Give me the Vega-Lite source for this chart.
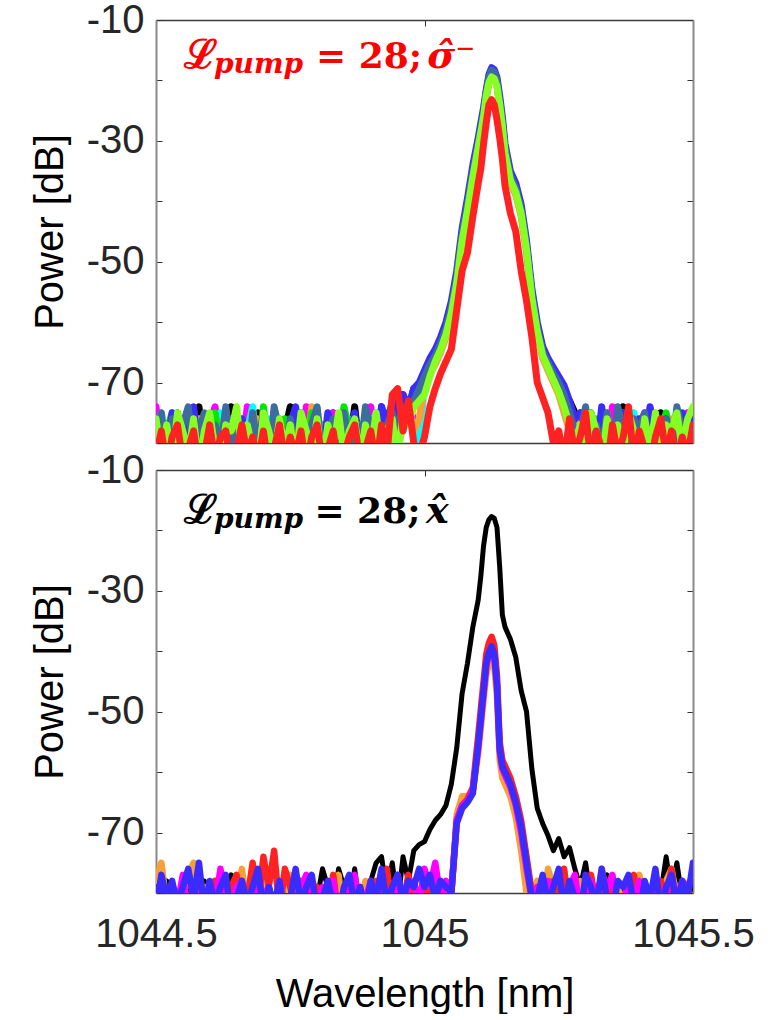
{
  "$schema": "https://vega.github.io/schema/vega-lite/v6.json",
  "autosize": {"type": "pad"},
  "padding": {"left": 30, "top": 0, "right": 0, "bottom": 0},
  "background": "white",
  "spacing": 27,
  "bounds": "flush",
  "config": {
    "view": {"stroke": null},
    "axis": {
      "grid": false, "ticks": true, "tickSize": -6, "tickColor": "#333333", "tickWidth": 1,
      "labelFont": "Liberation Sans", "labelFontSize": 40, "labelColor": "#262626",
      "titleFont": "Liberation Sans", "titleFontSize": 40, "titleFontWeight": "normal", "titleColor": "#000000",
      "labelOverlap": false, "labelFlush": false, "domainColor": "#3c3c3c", "domainWidth": 1.5
    },
    "axisY": {"domainColor": "#8a8a8a", "domainWidth": 2, "labelPadding": 18, "titlePadding": 16},
    "axisX": {"labelPadding": 27, "titlePadding": 20}
  },
  "datasets": {
    "top": [
      {"w":1044.5,"k":-82,"m":-74,"c":-78,"o":-81,"g":-77,"b":-82,"s":-78,"l":-76,"r":-82},
      {"w":1044.51,"k":-76,"m":-81,"c":-75,"o":-77,"g":-82,"b":-76,"s":-75,"l":-82,"r":-78},
      {"w":1044.52,"k":-83,"m":-77,"c":-82,"o":-83,"g":-78,"b":-81,"s":-83,"l":-77,"r":-84},
      {"w":1044.53,"k":-78,"m":-83,"c":-77,"o":-78,"g":-75,"b":-75,"s":-76,"l":-83,"r":-79},
      {"w":1044.54,"k":-75,"m":-76,"c":-81,"o":-76,"g":-83,"b":-78,"s":-81,"l":-75,"r":-77},
      {"w":1044.55,"k":-81,"m":-78,"c":-83,"o":-82,"g":-81,"b":-83,"s":-77,"l":-78,"r":-83},
      {"w":1044.56,"k":-84,"m":-82,"c":-76,"o":-78,"g":-76,"b":-77,"s":-74,"l":-82,"r":-81},
      {"w":1044.57,"k":-77,"m":-75,"c":-78,"o":-84,"g":-82,"b":-74,"s":-82,"l":-76,"r":-78},
      {"w":1044.58,"k":-74,"m":-81,"c":-82,"o":-76,"g":-78,"b":-82,"s":-78,"l":-84,"r":-84},
      {"w":1044.59,"k":-82,"m":-84,"c":-77,"o":-81,"g":-77,"b":-78,"s":-75,"l":-78,"r":-82},
      {"w":1044.6,"k":-78,"m":-77,"c":-84,"o":-77,"g":-83,"b":-76,"s":-83,"l":-75,"r":-77},
      {"w":1044.61,"k":-83,"m":-74,"c":-78,"o":-83,"g":-75,"b":-83,"s":-77,"l":-81,"r":-83},
      {"w":1044.62,"k":-76,"m":-82,"c":-75,"o":-78,"g":-81,"b":-81,"s":-81,"l":-83,"r":-79},
      {"w":1044.63,"k":-81,"m":-78,"c":-81,"o":-75,"g":-78,"b":-75,"s":-74,"l":-77,"r":-78},
      {"w":1044.64,"k":-74,"m":-76,"c":-83,"o":-82,"g":-84,"b":-78,"s":-82,"l":-78,"r":-84},
      {"w":1044.65,"k":-82,"m":-83,"c":-77,"o":-78,"g":-76,"b":-82,"s":-76,"l":-74,"r":-81},
      {"w":1044.66,"k":-77,"m":-81,"c":-82,"o":-83,"g":-82,"b":-76,"s":-78,"l":-82,"r":-77},
      {"w":1044.67,"k":-83,"m":-74,"c":-78,"o":-77,"g":-78,"b":-84,"s":-84,"l":-77,"r":-82},
      {"w":1044.68,"k":-78,"m":-82,"c":-74,"o":-81,"g":-77,"b":-77,"s":-75,"l":-81,"r":-79},
      {"w":1044.69,"k":-75,"m":-77,"c":-83,"o":-76,"g":-83,"b":-81,"s":-81,"l":-84,"r":-83},
      {"w":1044.7,"k":-82,"m":-78,"c":-81,"o":-84,"g":-74,"b":-75,"s":-77,"l":-75,"r":-78},
      {"w":1044.71,"k":-81,"m":-83,"c":-76,"o":-78,"g":-81,"b":-83,"s":-83,"l":-78,"r":-84},
      {"w":1044.72,"k":-76,"m":-75,"c":-82,"o":-82,"g":-78,"b":-78,"s":-74,"l":-82,"r":-81},
      {"w":1044.73,"k":-84,"m":-81,"c":-78,"o":-77,"g":-82,"b":-76,"s":-78,"l":-76,"r":-77},
      {"w":1044.74,"k":-78,"m":-77,"c":-84,"o":-81,"g":-76,"b":-82,"s":-82,"l":-81,"r":-83},
      {"w":1044.75,"k":-74,"m":-84,"c":-77,"o":-83,"g":-84,"b":-77,"s":-76,"l":-77,"r":-79},
      {"w":1044.76,"k":-82,"m":-76,"c":-81,"o":-76,"g":-78,"b":-74,"s":-81,"l":-83,"r":-82},
      {"w":1044.77,"k":-77,"m":-82,"c":-75,"o":-78,"g":-77,"b":-81,"s":-75,"l":-75,"r":-78},
      {"w":1044.78,"k":-83,"m":-74,"c":-83,"o":-82,"g":-82,"b":-83,"s":-83,"l":-78,"r":-84},
      {"w":1044.79,"k":-81,"m":-78,"c":-78,"o":-74,"g":-75,"b":-78,"s":-77,"l":-82,"r":-79},
      {"w":1044.8,"k":-76,"m":-83,"c":-76,"o":-81,"g":-81,"b":-76,"s":-74,"l":-76,"r":-77},
      {"w":1044.81,"k":-82,"m":-77,"c":-82,"o":-77,"g":-83,"b":-82,"s":-82,"l":-84,"r":-83},
      {"w":1044.82,"k":-78,"m":-81,"c":-77,"o":-83,"g":-78,"b":-75,"s":-78,"l":-77,"r":-81},
      {"w":1044.83,"k":-75,"m":-75,"c":-81,"o":-78,"g":-76,"b":-78,"s":-76,"l":-81,"r":-78},
      {"w":1044.84,"k":-83,"m":-82,"c":-84,"o":-76,"g":-82,"b":-84,"s":-83,"l":-75,"r":-84},
      {"w":1044.85,"k":-77,"m":-78,"c":-78,"o":-82,"g":-74,"b":-77,"s":-75,"l":-82,"r":-82},
      {"w":1044.86,"k":-81,"m":-76,"c":-76,"o":-81,"g":-78,"b":-81,"s":-81,"l":-78,"r":-79},
      {"w":1044.87,"k":-74,"m":-84,"c":-82,"o":-77,"g":-83,"b":-75,"s":-77,"l":-76,"r":-77},
      {"w":1044.88,"k":-82,"m":-77,"c":-77,"o":-83,"g":-77,"b":-82,"s":-82,"l":-83,"r":-83},
      {"w":1044.89,"k":-78,"m":-81,"c":-83,"o":-78,"g":-81,"b":-76,"s":-74,"l":-77,"r":-81},
      {"w":1044.9,"k":-76,"m":-74,"c":-78,"o":-76,"g":-76,"b":-78,"s":-78,"l":-81,"r":-78},
      {"w":1044.91,"k":-83,"m":-82,"c":-75,"o":-82,"g":-82,"b":-83,"s":-76,"l":-75,"r":-84},
      {"w":1044.92,"k":-74,"m":-78,"c":-81,"o":-75,"g":-78,"b":-74,"s":-83,"l":-82,"r":-77},
      {"w":1044.93,"k":-78,"m":-76,"c":-77,"o":-78,"g":-75,"b":-77,"s":-77,"l":-78,"r":-82},
      {"w":1044.94,"k":-74,"m":-81,"c":-82,"o":-76,"g":-77,"b":-73,"s":-75,"l":-76,"r":-72},
      {"w":1044.95,"k":-77,"m":-75,"c":-76,"o":-81,"g":-74,"b":-75,"s":-78,"l":-83,"r":-71},
      {"w":1044.96,"k":-72,"m":-77,"c":-78,"o":-77,"g":-76,"b":-72,"s":-74,"l":-75,"r":-78},
      {"w":1044.97,"k":-75,"m":-74,"c":-75,"o":-75,"g":-73,"b":-74,"s":-75,"l":-77,"r":-73},
      {"w":1044.98,"k":-71,"m":-76,"c":-77,"o":-78,"g":-74,"b":-71,"s":-73,"l":-74,"r":-80},
      {"w":1044.99,"k":-72,"m":-78,"c":-81,"o":-76,"g":-72,"b":-70,"s":-71,"l":-73,"r":-82},
      {"w":1045.0,"k":-70,"m":-69.5,"c":-70,"o":-70.5,"g":-69,"b":-68,"s":-69,"l":-72,"r":-79},
      {"w":1045.01,"k":-68,"m":-67.5,"c":-68,"o":-68.5,"g":-67,"b":-66,"s":-67,"l":-69,"r":-74},
      {"w":1045.02,"k":-66.5,"m":-66,"c":-66.5,"o":-67,"g":-66,"b":-64.5,"s":-65.5,"l":-66.5,"r":-71},
      {"w":1045.03,"k":-64.5,"m":-64,"c":-64.5,"o":-65,"g":-64,"b":-62.5,"s":-63.5,"l":-64.5,"r":-68.5},
      {"w":1045.04,"k":-62,"m":-61.5,"c":-62,"o":-62.5,"g":-61.5,"b":-60,"s":-61,"l":-62,"r":-66.5},
      {"w":1045.05,"k":-58.5,"m":-58,"c":-58.5,"o":-59,"g":-58,"b":-56.5,"s":-57.5,"l":-58.5,"r":-64.5},
      {"w":1045.06,"k":-53.5,"m":-53,"c":-53.5,"o":-54,"g":-53,"b":-51.5,"s":-52.5,"l":-53.5,"r":-58},
      {"w":1045.07,"k":-46.5,"m":-46,"c":-46.5,"o":-47,"g":-46,"b":-44.5,"s":-45.5,"l":-46.5,"r":-51.5},
      {"w":1045.08,"k":-41.5,"m":-41,"c":-41.5,"o":-42,"g":-41,"b":-39.5,"s":-40.5,"l":-41.5,"r":-48.5},
      {"w":1045.09,"k":-36,"m":-35.5,"c":-36,"o":-36.5,"g":-35.5,"b":-34,"s":-35,"l":-36,"r":-42.5},
      {"w":1045.1,"k":-31,"m":-30.5,"c":-31,"o":-31.5,"g":-30.5,"b":-29.5,"s":-30.5,"l":-31,"r":-37},
      {"w":1045.105,"k":-28.5,"m":-28,"c":-28.5,"o":-29,"g":-28,"b":-27,"s":-28,"l":-28.5,"r":-34.5},
      {"w":1045.11,"k":-26,"m":-25.5,"c":-26,"o":-26.5,"g":-25.5,"b":-24.5,"s":-25.5,"l":-26,"r":-30.5},
      {"w":1045.115,"k":-22.5,"m":-22,"c":-22.5,"o":-23,"g":-22,"b":-21.5,"s":-22,"l":-22.5,"r":-27},
      {"w":1045.12,"k":-20,"m":-19.5,"c":-20,"o":-20.5,"g":-19.5,"b":-19,"s":-19.5,"l":-20.3,"r":-24},
      {"w":1045.125,"k":-18.8,"m":-18.3,"c":-18.8,"o":-19.3,"g":-18.4,"b":-17.9,"s":-18.3,"l":-19.4,"r":-23.2},
      {"w":1045.13,"k":-19,"m":-18.6,"c":-19,"o":-19.5,"g":-18.6,"b":-18.2,"s":-18.6,"l":-19.7,"r":-24},
      {"w":1045.135,"k":-20.5,"m":-20,"c":-20.5,"o":-21,"g":-20,"b":-19.5,"s":-20,"l":-21,"r":-26.5},
      {"w":1045.14,"k":-24,"m":-23.5,"c":-24,"o":-24.5,"g":-23.5,"b":-22.5,"s":-23.3,"l":-24,"r":-29.5},
      {"w":1045.145,"k":-27.5,"m":-27,"c":-27.5,"o":-28,"g":-27,"b":-26,"s":-26.8,"l":-27.5,"r":-33},
      {"w":1045.15,"k":-32,"m":-31.5,"c":-32,"o":-32.5,"g":-31.5,"b":-30.5,"s":-31.3,"l":-32,"r":-37.5},
      {"w":1045.16,"k":-36.5,"m":-36,"c":-36.5,"o":-37,"g":-36,"b":-35,"s":-35.8,"l":-36.5,"r":-42},
      {"w":1045.17,"k":-38.5,"m":-38,"c":-38.5,"o":-39,"g":-38,"b":-37,"s":-37.8,"l":-38.5,"r":-45},
      {"w":1045.18,"k":-42,"m":-41.5,"c":-42,"o":-42.5,"g":-41.5,"b":-40.5,"s":-41.3,"l":-42,"r":-51.5},
      {"w":1045.19,"k":-48,"m":-47.5,"c":-48,"o":-48.5,"g":-47.5,"b":-46.5,"s":-47.3,"l":-48,"r":-56.5},
      {"w":1045.2,"k":-56,"m":-55.5,"c":-56,"o":-56.5,"g":-55.5,"b":-54.5,"s":-55.3,"l":-56,"r":-62.5},
      {"w":1045.21,"k":-61.5,"m":-61,"c":-61.5,"o":-62,"g":-61,"b":-60,"s":-61,"l":-61.5,"r":-70},
      {"w":1045.22,"k":-65.5,"m":-65,"c":-65.5,"o":-66,"g":-65,"b":-64,"s":-64.8,"l":-65.5,"r":-72.5},
      {"w":1045.23,"k":-67.5,"m":-67,"c":-67.5,"o":-68,"g":-67,"b":-66,"s":-66.8,"l":-67.5,"r":-75},
      {"w":1045.24,"k":-69,"m":-68.5,"c":-69.5,"o":-70,"g":-69,"b":-67.5,"s":-68.5,"l":-69.5,"r":-80},
      {"w":1045.25,"k":-71,"m":-70.5,"c":-71.5,"o":-72,"g":-71,"b":-69,"s":-70,"l":-71.5,"r":-78},
      {"w":1045.26,"k":-72,"m":-73,"c":-74,"o":-75,"g":-73,"b":-70.5,"s":-72,"l":-74,"r":-83},
      {"w":1045.27,"k":-73,"m":-76,"c":-77,"o":-78,"g":-76,"b":-73,"s":-75,"l":-77,"r":-76},
      {"w":1045.28,"k":-75,"m":-79,"c":-81,"o":-82,"g":-79,"b":-76,"s":-78,"l":-80,"r":-82},
      {"w":1045.29,"k":-77,"m":-81,"c":-78,"o":-76,"g":-82,"b":-75,"s":-78,"l":-77,"r":-79},
      {"w":1045.3,"k":-82,"m":-75,"c":-83,"o":-81,"g":-77,"b":-78,"s":-74,"l":-82,"r":-75},
      {"w":1045.31,"k":-75,"m":-78,"c":-77,"o":-83,"g":-81,"b":-76,"s":-82,"l":-75,"r":-83},
      {"w":1045.32,"k":-81,"m":-83,"c":-81,"o":-77,"g":-76,"b":-82,"s":-77,"l":-78,"r":-78},
      {"w":1045.33,"k":-83,"m":-76,"c":-76,"o":-78,"g":-83,"b":-74,"s":-81,"l":-83,"r":-81},
      {"w":1045.34,"k":-76,"m":-81,"c":-82,"o":-75,"g":-78,"b":-81,"s":-75,"l":-76,"r":-84},
      {"w":1045.35,"k":-78,"m":-74,"c":-78,"o":-82,"g":-77,"b":-77,"s":-83,"l":-81,"r":-77},
      {"w":1045.36,"k":-82,"m":-82,"c":-83,"o":-78,"g":-82,"b":-83,"s":-74,"l":-77,"r":-82},
      {"w":1045.37,"k":-74,"m":-78,"c":-77,"o":-83,"g":-75,"b":-75,"s":-78,"l":-82,"r":-79},
      {"w":1045.38,"k":-81,"m":-76,"c":-81,"o":-77,"g":-81,"b":-78,"s":-82,"l":-75,"r":-74},
      {"w":1045.39,"k":-77,"m":-83,"c":-75,"o":-81,"g":-78,"b":-82,"s":-76,"l":-78,"r":-83},
      {"w":1045.4,"k":-83,"m":-77,"c":-82,"o":-76,"g":-83,"b":-76,"s":-78,"l":-83,"r":-78},
      {"w":1045.41,"k":-76,"m":-75,"c":-78,"o":-82,"g":-77,"b":-81,"s":-75,"l":-76,"r":-81},
      {"w":1045.42,"k":-78,"m":-81,"c":-76,"o":-78,"g":-76,"b":-74,"s":-83,"l":-81,"r":-84},
      {"w":1045.43,"k":-82,"m":-78,"c":-83,"o":-75,"g":-82,"b":-78,"s":-77,"l":-75,"r":-79},
      {"w":1045.44,"k":-75,"m":-82,"c":-81,"o":-83,"g":-78,"b":-83,"s":-81,"l":-82,"r":-76},
      {"w":1045.45,"k":-81,"m":-76,"c":-77,"o":-78,"g":-75,"b":-76,"s":-76,"l":-77,"r":-82},
      {"w":1045.46,"k":-77,"m":-81,"c":-82,"o":-76,"g":-81,"b":-81,"s":-82,"l":-78,"r":-78},
      {"w":1045.47,"k":-83,"m":-77,"c":-76,"o":-81,"g":-83,"b":-77,"s":-74,"l":-75,"r":-83},
      {"w":1045.48,"k":-78,"m":-83,"c":-78,"o":-77,"g":-76,"b":-75,"s":-78,"l":-81,"r":-79},
      {"w":1045.49,"k":-76,"m":-75,"c":-83,"o":-82,"g":-78,"b":-82,"s":-77,"l":-76,"r":-82},
      {"w":1045.5,"k":-81,"m":-78,"c":-77,"o":-78,"g":-77,"b":-76,"s":-81,"l":-74,"r":-77}
    ],
    "bottom": [
      {"w":1044.5,"k":-79,"o":-78,"r":-82,"m":-81,"b":-83},
      {"w":1044.51,"k":-82,"o":-75,"r":-79,"m":-78,"b":-77},
      {"w":1044.52,"k":-78,"o":-82,"r":-84,"m":-83,"b":-81},
      {"w":1044.53,"k":-83,"o":-79,"r":-81,"m":-79,"b":-78},
      {"w":1044.54,"k":-81,"o":-83,"r":-83,"m":-82,"b":-82},
      {"w":1044.55,"k":-84,"o":-81,"r":-78,"m":-77,"b":-79},
      {"w":1044.56,"k":-79,"o":-77,"r":-82,"m":-84,"b":-76},
      {"w":1044.57,"k":-82,"o":-75,"r":-84,"m":-81,"b":-81},
      {"w":1044.58,"k":-83,"o":-82,"r":-79,"m":-78,"b":-75},
      {"w":1044.59,"k":-78,"o":-79,"r":-83,"m":-83,"b":-83},
      {"w":1044.6,"k":-84,"o":-83,"r":-81,"m":-79,"b":-78},
      {"w":1044.61,"k":-81,"o":-78,"r":-78,"m":-82,"b":-82},
      {"w":1044.62,"k":-79,"o":-82,"r":-84,"m":-76,"b":-79},
      {"w":1044.63,"k":-83,"o":-84,"r":-82,"m":-81,"b":-77},
      {"w":1044.64,"k":-77,"o":-79,"r":-79,"m":-83,"b":-84},
      {"w":1044.65,"k":-78,"o":-81,"r":-77,"m":-79,"b":-81},
      {"w":1044.66,"k":-84,"o":-76,"r":-83,"m":-78,"b":-78},
      {"w":1044.67,"k":-79,"o":-83,"r":-81,"m":-84,"b":-82},
      {"w":1044.68,"k":-82,"o":-79,"r":-75,"m":-82,"b":-79},
      {"w":1044.69,"k":-83,"o":-82,"r":-82,"m":-77,"b":-76},
      {"w":1044.7,"k":-81,"o":-77,"r":-74,"m":-81,"b":-83},
      {"w":1044.71,"k":-78,"o":-84,"r":-79,"m":-79,"b":-79},
      {"w":1044.72,"k":-84,"o":-81,"r":-73,"m":-83,"b":-82},
      {"w":1044.73,"k":-82,"o":-79,"r":-83,"m":-78,"b":-78},
      {"w":1044.74,"k":-79,"o":-83,"r":-76,"m":-82,"b":-84},
      {"w":1044.75,"k":-83,"o":-77,"r":-79,"m":-81,"b":-81},
      {"w":1044.76,"k":-77,"o":-82,"r":-82,"m":-84,"b":-76},
      {"w":1044.77,"k":-82,"o":-79,"r":-78,"m":-79,"b":-82},
      {"w":1044.78,"k":-84,"o":-84,"r":-84,"m":-77,"b":-79},
      {"w":1044.79,"k":-79,"o":-78,"r":-81,"m":-82,"b":-77},
      {"w":1044.8,"k":-81,"o":-81,"r":-79,"m":-83,"b":-83},
      {"w":1044.81,"k":-76,"o":-83,"r":-83,"m":-79,"b":-81},
      {"w":1044.82,"k":-79,"o":-79,"r":-82,"m":-81,"b":-78},
      {"w":1044.83,"k":-82,"o":-82,"r":-77,"m":-78,"b":-82},
      {"w":1044.84,"k":-76,"o":-77,"r":-84,"m":-84,"b":-84},
      {"w":1044.85,"k":-79,"o":-84,"r":-81,"m":-82,"b":-79},
      {"w":1044.86,"k":-82,"o":-79,"r":-78,"m":-79,"b":-77},
      {"w":1044.87,"k":-76,"o":-81,"r":-83,"m":-77,"b":-82},
      {"w":1044.88,"k":-83,"o":-83,"r":-79,"m":-83,"b":-79},
      {"w":1044.89,"k":-81,"o":-78,"r":-82,"m":-81,"b":-83},
      {"w":1044.9,"k":-78,"o":-82,"r":-84,"m":-78,"b":-78},
      {"w":1044.91,"k":-75,"o":-79,"r":-78,"m":-82,"b":-81},
      {"w":1044.92,"k":-74,"o":-77,"r":-81,"m":-79,"b":-76},
      {"w":1044.93,"k":-80,"o":-83,"r":-76,"m":-84,"b":-82},
      {"w":1044.94,"k":-75,"o":-81,"r":-83,"m":-81,"b":-79},
      {"w":1044.95,"k":-82,"o":-78,"r":-79,"m":-77,"b":-77},
      {"w":1044.96,"k":-74,"o":-82,"r":-82,"m":-82,"b":-81},
      {"w":1044.97,"k":-78,"o":-79,"r":-77,"m":-79,"b":-78},
      {"w":1044.98,"k":-73,"o":-84,"r":-84,"m":-78,"b":-79},
      {"w":1044.99,"k":-72,"o":-81,"r":-81,"m":-82,"b":-76},
      {"w":1045.0,"k":-71.5,"o":-78,"r":-78,"m":-76,"b":-79},
      {"w":1045.01,"k":-69.5,"o":-82,"r":-82,"m":-79,"b":-77},
      {"w":1045.02,"k":-68,"o":-79,"r":-79,"m":-75,"b":-81},
      {"w":1045.03,"k":-67,"o":-83,"r":-83,"m":-81,"b":-78},
      {"w":1045.04,"k":-65.5,"o":-79,"r":-81,"m":-78,"b":-79},
      {"w":1045.05,"k":-62,"o":-80,"r":-80,"m":-80,"b":-80},
      {"w":1045.06,"k":-56,"o":-67,"r":-68,"m":-68,"b":-68.5},
      {"w":1045.07,"k":-47,"o":-64,"r":-65.5,"m":-65.5,"b":-66},
      {"w":1045.08,"k":-42,"o":-64,"r":-64.5,"m":-64.8,"b":-65},
      {"w":1045.09,"k":-36,"o":-63,"r":-62.5,"m":-63,"b":-63.5},
      {"w":1045.1,"k":-31.5,"o":-57,"r":-54,"m":-56,"b":-55.5},
      {"w":1045.105,"k":-27.5,"o":-52.5,"r":-49.5,"m":-51.5,"b":-51},
      {"w":1045.11,"k":-22.5,"o":-48,"r":-45,"m":-47,"b":-46.5},
      {"w":1045.115,"k":-19.5,"o":-44,"r":-40.5,"m":-42.5,"b":-42},
      {"w":1045.12,"k":-18.2,"o":-42,"r":-38.6,"m":-40.5,"b":-40.2},
      {"w":1045.125,"k":-17.7,"o":-41,"r":-37.6,"m":-39.6,"b":-39.2},
      {"w":1045.13,"k":-18,"o":-42.5,"r":-39,"m":-41,"b":-40.5},
      {"w":1045.135,"k":-19.5,"o":-47.5,"r":-44,"m":-46,"b":-45.5},
      {"w":1045.14,"k":-26,"o":-58,"r":-55,"m":-56.5,"b":-56},
      {"w":1045.145,"k":-34,"o":-61,"r":-58,"m":-59.5,"b":-59},
      {"w":1045.15,"k":-36,"o":-62,"r":-59,"m":-60.5,"b":-60},
      {"w":1045.16,"k":-38,"o":-64,"r":-61,"m":-62.5,"b":-62},
      {"w":1045.17,"k":-41,"o":-67.5,"r":-64,"m":-65.5,"b":-65},
      {"w":1045.18,"k":-46.5,"o":-73,"r":-68,"m":-70,"b":-69},
      {"w":1045.19,"k":-50,"o":-80,"r":-74,"m":-76,"b":-75},
      {"w":1045.2,"k":-59.5,"o":-81,"r":-80,"m":-81,"b":-81},
      {"w":1045.21,"k":-66,"o":-78,"r":-82,"m":-79,"b":-81},
      {"w":1045.22,"k":-68.5,"o":-82,"r":-79,"m":-83,"b":-77},
      {"w":1045.23,"k":-70.5,"o":-76,"r":-84,"m":-78,"b":-82},
      {"w":1045.24,"k":-73,"o":-79,"r":-78,"m":-82,"b":-79},
      {"w":1045.25,"k":-71,"o":-83,"r":-82,"m":-81,"b":-76},
      {"w":1045.26,"k":-74,"o":-77,"r":-76,"m":-84,"b":-83},
      {"w":1045.27,"k":-72.5,"o":-81,"r":-83,"m":-79,"b":-78},
      {"w":1045.28,"k":-76,"o":-84,"r":-79,"m":-77,"b":-81},
      {"w":1045.29,"k":-79,"o":-78,"r":-81,"m":-83,"b":-84},
      {"w":1045.3,"k":-75,"o":-82,"r":-84,"m":-81,"b":-77},
      {"w":1045.31,"k":-81,"o":-79,"r":-77,"m":-78,"b":-79},
      {"w":1045.32,"k":-83,"o":-83,"r":-82,"m":-82,"b":-82},
      {"w":1045.33,"k":-80,"o":-76,"r":-79,"m":-84,"b":-76},
      {"w":1045.34,"k":-77,"o":-81,"r":-83,"m":-79,"b":-81},
      {"w":1045.35,"k":-82,"o":-84,"r":-78,"m":-77,"b":-83},
      {"w":1045.36,"k":-84,"o":-79,"r":-81,"m":-83,"b":-78},
      {"w":1045.37,"k":-79,"o":-82,"r":-84,"m":-81,"b":-79},
      {"w":1045.38,"k":-81,"o":-78,"r":-82,"m":-79,"b":-77},
      {"w":1045.39,"k":-83,"o":-83,"r":-77,"m":-82,"b":-82},
      {"w":1045.4,"k":-78,"o":-77,"r":-83,"m":-78,"b":-84},
      {"w":1045.41,"k":-82,"o":-81,"r":-79,"m":-83,"b":-78},
      {"w":1045.42,"k":-80,"o":-84,"r":-82,"m":-81,"b":-81},
      {"w":1045.43,"k":-84,"o":-79,"r":-84,"m":-77,"b":-76},
      {"w":1045.44,"k":-80,"o":-82,"r":-78,"m":-82,"b":-83},
      {"w":1045.45,"k":-74,"o":-78,"r":-81,"m":-79,"b":-79},
      {"w":1045.46,"k":-80,"o":-76,"r":-76,"m":-84,"b":-77},
      {"w":1045.47,"k":-75,"o":-81,"r":-83,"m":-81,"b":-82},
      {"w":1045.48,"k":-81,"o":-83,"r":-79,"m":-78,"b":-78},
      {"w":1045.49,"k":-83,"o":-79,"r":-82,"m":-79,"b":-81},
      {"w":1045.5,"k":-78,"o":-82,"r":-84,"m":-77,"b":-75}
    ]
  },
  "vconcat": [
    {
      "width": 537,
      "height": 423,
      "resolve": {"axis": {"x": "independent", "y": "independent"}},
      "layer": [
        {
          "data": {"name": "top"},
          "transform": [{"fold": ["k", "m", "c", "o", "g", "b", "s", "l", "r"], "as": ["series", "power"]}],
          "mark": {"type": "line", "clip": true, "strokeWidth": 7, "strokeCap": "round", "strokeJoin": "round"},
          "encoding": {
            "x": {"field": "w", "type": "quantitative",
                  "scale": {"domain": [1044.5, 1045.5], "nice": false, "zero": false},
                  "axis": {"orient": "bottom", "values": [1044.5, 1045, 1045.5], "labels": false, "title": null}},
            "y": {"field": "power", "type": "quantitative",
                  "scale": {"domain": [-80, -10], "nice": false, "zero": false},
                  "axis": {"orient": "left", "values": [-80, -70, -60, -50, -40, -30, -20, -10],
                           "labelExpr": "datum.value % 20 != 0 ? '' + datum.value : ''", "title": "Power [dB]"}},
            "color": {"field": "series", "type": "nominal", "legend": null,
                      "scale": {"domain": ["k", "m", "c", "o", "g", "b", "s", "l", "r"],
                                "range": ["#000000", "#ff00ff", "#00ffff", "#f7a035", "#00e600", "#3a2bff", "#3d6c9e", "#88ff22", "#ff2222"]}}
          }
        },
        {
          "data": {"values": [{}]},
          "mark": {"type": "text", "font": "DejaVu Serif", "fontWeight": "bold", "fontSize": 40, "align": "left", "baseline": "alphabetic", "color": "#ff0000"},
          "encoding": {
            "x": {"datum": 1044.552, "type": "quantitative", "scale": {"domain": [1044.5, 1045.5], "nice": false, "zero": false},
                  "axis": {"orient": "top", "values": [1044.5, 1045, 1045.5], "labels": false, "title": null}},
            "y": {"datum": -17.94, "type": "quantitative", "scale": {"domain": [-80, -10], "nice": false, "zero": false},
                  "axis": {"orient": "right", "values": [-80, -70, -60, -50, -40, -30, -20, -10], "labels": false, "title": null}},
            "text": {"value": "ℒ"}
          }
        },
        {
          "data": {"values": [{}]},
          "mark": {"type": "text", "font": "DejaVu Serif", "fontWeight": "bold", "fontStyle": "italic", "fontSize": 28, "align": "left", "baseline": "alphabetic", "color": "#ff0000"},
          "encoding": {
            "x": {"datum": 1044.608, "type": "quantitative", "scale": {"domain": [1044.5, 1045.5], "nice": false, "zero": false}, "axis": null},
            "y": {"datum": -18.77, "type": "quantitative", "scale": {"domain": [-80, -10], "nice": false, "zero": false}, "axis": null},
            "text": {"value": "pump"}
          }
        },
        {
          "data": {"values": [{}]},
          "mark": {"type": "text", "font": "DejaVu Serif", "fontWeight": "bold", "fontSize": 36, "align": "left", "baseline": "alphabetic", "color": "#ff0000"},
          "encoding": {
            "x": {"datum": 1044.798, "type": "quantitative", "scale": {"domain": [1044.5, 1045.5], "nice": false, "zero": false}, "axis": null},
            "y": {"datum": -17.94, "type": "quantitative", "scale": {"domain": [-80, -10], "nice": false, "zero": false}, "axis": null},
            "text": {"value": "= 28;"}
          }
        },
        {
          "data": {"values": [{}]},
          "mark": {"type": "text", "font": "DejaVu Serif", "fontWeight": "bold", "fontStyle": "italic", "fontSize": 38, "align": "left", "baseline": "alphabetic", "color": "#ff0000"},
          "encoding": {
            "x": {"datum": 1045.005, "type": "quantitative", "scale": {"domain": [1044.5, 1045.5], "nice": false, "zero": false}, "axis": null},
            "y": {"datum": -17.94, "type": "quantitative", "scale": {"domain": [-80, -10], "nice": false, "zero": false}, "axis": null},
            "text": {"value": "σ̂⁻"}
          }
        }
      ]
    },
    {
      "width": 537,
      "height": 423,
      "resolve": {"axis": {"x": "independent", "y": "independent"}},
      "layer": [
        {
          "data": {"name": "bottom"},
          "mark": {"type": "line", "clip": true, "strokeWidth": 5, "strokeCap": "round", "strokeJoin": "round", "color": "#000000"},
          "encoding": {
            "x": {"field": "w", "type": "quantitative",
                  "scale": {"domain": [1044.5, 1045.5], "nice": false, "zero": false},
                  "axis": {"orient": "bottom", "values": [1044.5, 1045, 1045.5], "format": "~g", "title": "Wavelength [nm]"}},
            "y": {"field": "k", "type": "quantitative",
                  "scale": {"domain": [-80, -10], "nice": false, "zero": false},
                  "axis": {"orient": "left", "values": [-80, -70, -60, -50, -40, -30, -20, -10],
                           "labelExpr": "datum.value % 20 != 0 ? '' + datum.value : ''", "title": "Power [dB]"}}
          }
        },
        {
          "data": {"name": "bottom"},
          "transform": [{"fold": ["o", "r", "m", "b"], "as": ["series", "power"]}],
          "mark": {"type": "line", "clip": true, "strokeWidth": 6.5, "strokeCap": "round", "strokeJoin": "round"},
          "encoding": {
            "x": {"field": "w", "type": "quantitative", "scale": {"domain": [1044.5, 1045.5], "nice": false, "zero": false}, "axis": null},
            "y": {"field": "power", "type": "quantitative", "scale": {"domain": [-80, -10], "nice": false, "zero": false}, "axis": null},
            "color": {"field": "series", "type": "nominal", "legend": null,
                      "scale": {"domain": ["o", "r", "m", "b"], "range": ["#f5a030", "#ff0000", "#ff33ff", "#4a32ff"]}}
          }
        },
        {
          "data": {"values": [{}]},
          "mark": {"type": "text", "font": "DejaVu Serif", "fontWeight": "bold", "fontSize": 40, "align": "left", "baseline": "alphabetic", "color": "#000000"},
          "encoding": {
            "x": {"datum": 1044.552, "type": "quantitative", "scale": {"domain": [1044.5, 1045.5], "nice": false, "zero": false},
                  "axis": {"orient": "top", "values": [1044.5, 1045, 1045.5], "labels": false, "title": null}},
            "y": {"datum": -18.77, "type": "quantitative", "scale": {"domain": [-80, -10], "nice": false, "zero": false},
                  "axis": {"orient": "right", "values": [-80, -70, -60, -50, -40, -30, -20, -10], "labels": false, "title": null}},
            "text": {"value": "ℒ"}
          }
        },
        {
          "data": {"values": [{}]},
          "mark": {"type": "text", "font": "DejaVu Serif", "fontWeight": "bold", "fontStyle": "italic", "fontSize": 28, "align": "left", "baseline": "alphabetic", "color": "#000000"},
          "encoding": {
            "x": {"datum": 1044.608, "type": "quantitative", "scale": {"domain": [1044.5, 1045.5], "nice": false, "zero": false}, "axis": null},
            "y": {"datum": -19.6, "type": "quantitative", "scale": {"domain": [-80, -10], "nice": false, "zero": false}, "axis": null},
            "text": {"value": "pump"}
          }
        },
        {
          "data": {"values": [{}]},
          "mark": {"type": "text", "font": "DejaVu Serif", "fontWeight": "bold", "fontSize": 36, "align": "left", "baseline": "alphabetic", "color": "#000000"},
          "encoding": {
            "x": {"datum": 1044.795, "type": "quantitative", "scale": {"domain": [1044.5, 1045.5], "nice": false, "zero": false}, "axis": null},
            "y": {"datum": -18.77, "type": "quantitative", "scale": {"domain": [-80, -10], "nice": false, "zero": false}, "axis": null},
            "text": {"value": "= 28;"}
          }
        },
        {
          "data": {"values": [{}]},
          "mark": {"type": "text", "font": "DejaVu Serif", "fontWeight": "bold", "fontStyle": "italic", "fontSize": 38, "align": "left", "baseline": "alphabetic", "color": "#000000"},
          "encoding": {
            "x": {"datum": 1045.003, "type": "quantitative", "scale": {"domain": [1044.5, 1045.5], "nice": false, "zero": false}, "axis": null},
            "y": {"datum": -18.77, "type": "quantitative", "scale": {"domain": [-80, -10], "nice": false, "zero": false}, "axis": null},
            "text": {"value": "x̂"}
          }
        }
      ]
    }
  ]
}
